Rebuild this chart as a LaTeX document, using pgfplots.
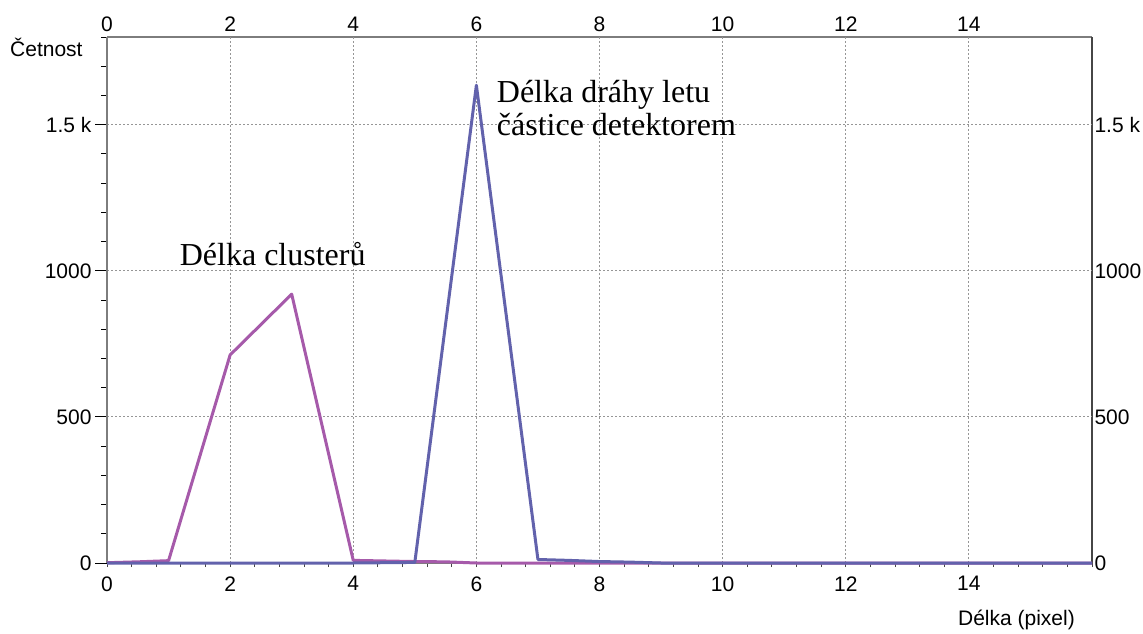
\documentclass[border=0pt]{standalone}
\usepackage{pgfplots}
\pgfplotsset{compat=1.18}
\usepackage{fontspec}
\setmainfont{Liberation Serif}
\setsansfont{Liberation Sans}
\definecolor{clus}{RGB}{166,90,170}
\definecolor{drah}{RGB}{98,98,172}
\definecolor{frame}{RGB}{125,125,125}
\definecolor{frameR}{RGB}{70,70,70}
\definecolor{gridc}{RGB}{150,150,150}
\newcommand{\tickfont}{\sffamily\fontsize{21}{21}\selectfont}
\begin{document}
\begin{tikzpicture}[x=1pt,y=1pt]
\useasboundingbox (0,0) rectangle (1143,633);
\pgfplotsset{every axis/.append style={
  scale only axis, width=985pt, height=526pt,
  at={(107pt,70pt)}, anchor=south west,
  xmin=0, xmax=16, ymin=0, ymax=1800,
  /pgf/number format/assume math mode=true,
  tick label style={font=\tickfont},
}}
% labels on the top and right sides, no tick marks
\begin{axis}[
  axis x line*=top, axis y line*=right,
  axis line style={frameR, line width=1.2pt},
  x axis line style={frame},
  xtick={0,2,...,14}, ytick={0,500,1000,1500},
  yticklabels={0,500,1000,1.5 k},
  major tick length=0pt,
  xticklabel style={yshift=2pt},
  yticklabel style={anchor=west, xshift=-1pt},
]
\end{axis}
% short ticks under the bottom edge, every 0.4
\begin{axis}[
  axis x line*=bottom, axis y line=none,
  axis line style={frame, line width=1.2pt},
  xtick={0,0.4,...,16}, xticklabels={},
  major tick length=4pt, tick align=outside,
  xtick style={frameR, line width=1pt},
]
\end{axis}
\begin{axis}[
  axis lines*=left,
  axis line style={frame, line width=1.2pt},
  tick align=outside,
  xtick={0,2,...,14}, xminorticks=false,
  xtick style={draw=none},
  ytick={0,500,1000,1500}, yticklabels={0,500,1000,1.5 k},
  minor ytick={100,200,...,1800},
  major tick length=12pt, minor tick length=6pt,
  ytick style={black, line width=0.9pt},
  xticklabel style={yshift=2pt},
  grid=major,
  major grid style={gridc, dash pattern=on 2pt off 2pt, line width=0.8pt},
  clip=false,
]
\addplot[clus, line width=3pt, line join=round] coordinates {
  (0,1) (0.5,4) (1,8) (2,712) (3,920) (4,9) (5,5) (5.5,4) (6,0)
  (7,0) (8,0) (9,0) (10,0) (11,0) (12,0) (13,0) (14,0) (15,0) (16,0)
};
\addplot[drah, line width=3pt, line join=round] coordinates {
  (0,0) (1,0) (2,0) (3,0) (4,0) (5,2) (6,1635) (7,12) (7.5,9)
  (8,5) (8.5,3) (9,0) (10,0) (11,0) (12,0) (13,0) (14,0) (15,0) (16,0)
};
\node[anchor=base west, font=\fontsize{32}{32}\selectfont, inner sep=0pt]
  at (axis cs:1.18,1019) {Délka clusterů};
\node[anchor=base west, font=\fontsize{32}{32}\selectfont, inner sep=0pt]
  at (axis cs:6.33,1577) {Délka dráhy letu};
\node[anchor=base west, font=\fontsize{32}{32}\selectfont, inner sep=0pt]
  at (axis cs:6.33,1464) {částice detektorem};
\end{axis}
\node[anchor=base west, font=\tickfont, inner sep=0pt] at (10,576) {Četnost};
\node[anchor=base east, font=\tickfont, inner sep=0pt] at (1075,8) {Délka (pixel)};
\end{tikzpicture}
\end{document}
